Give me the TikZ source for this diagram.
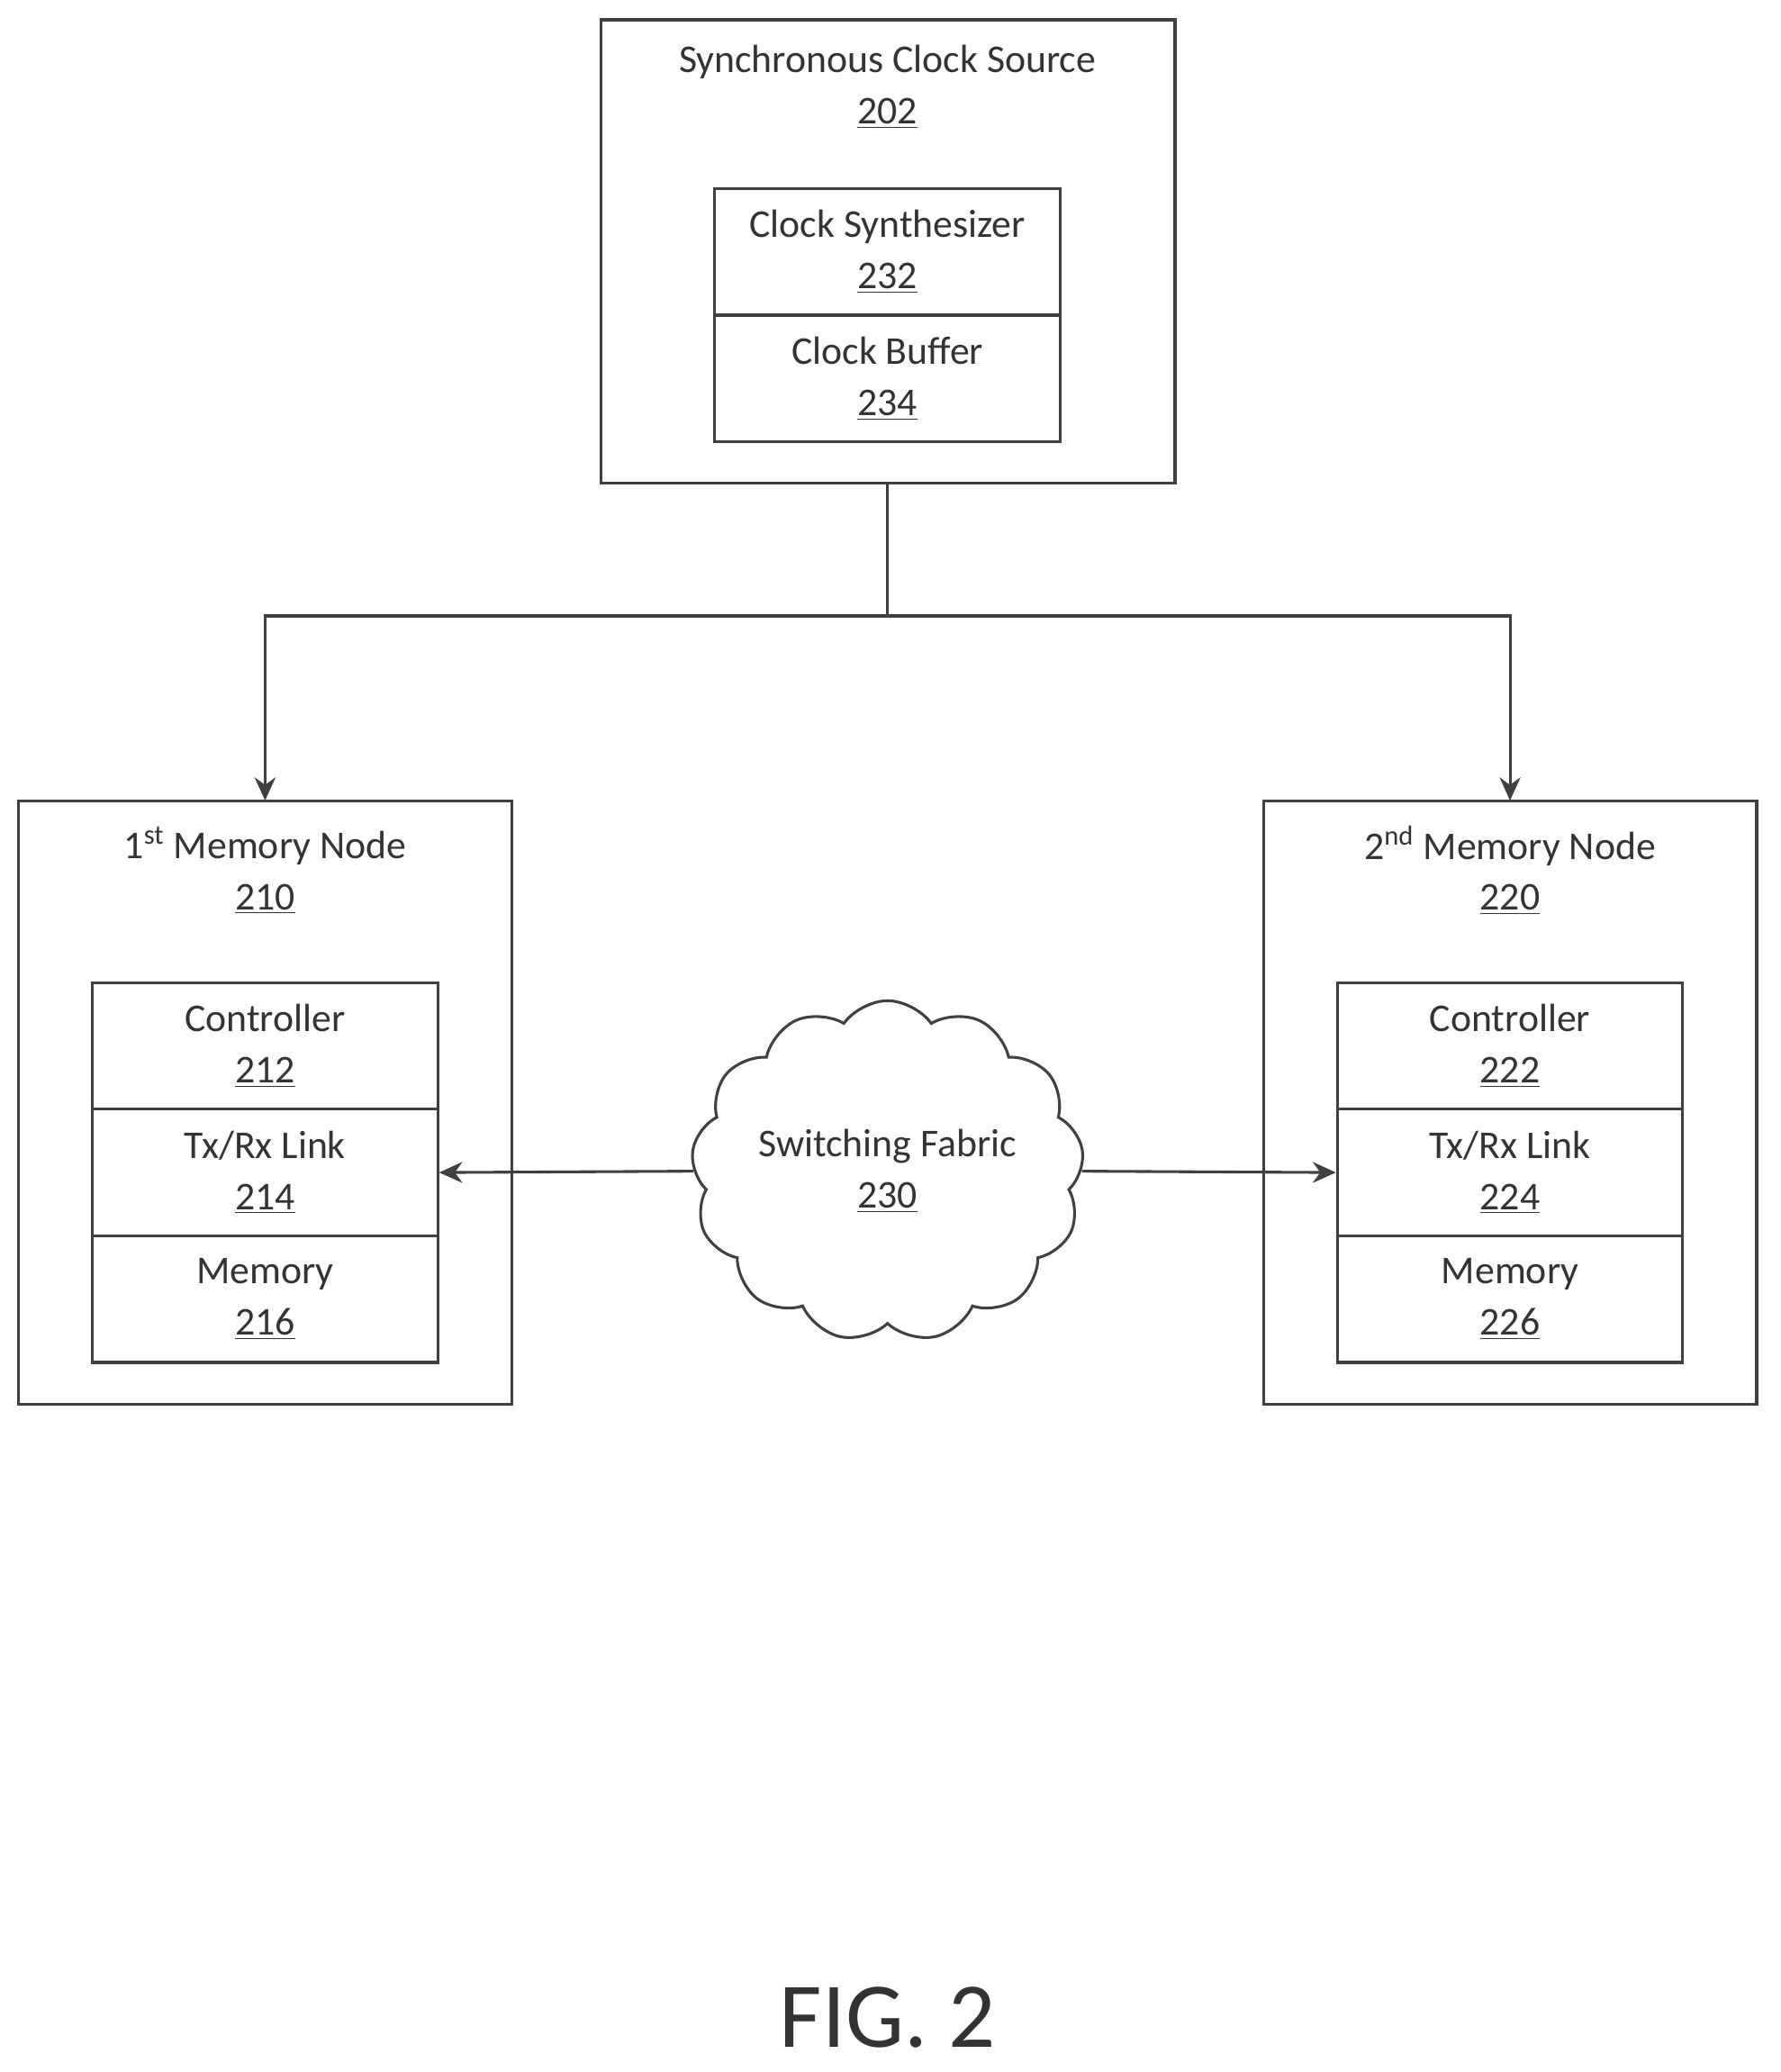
\documentclass[tikz,border=0pt]{standalone}
\usepackage{fontspec}
\setmainfont{Carlito}
\usetikzlibrary{shapes.symbols,arrows.meta}
\tikzset{
  box/.style={draw=black!75, line width=1.2pt},
  part/.style={draw=black!75, line width=1.2pt, minimum width=5.24cm, minimum height=1.92cm, inner sep=0pt, align=center, font=\fontsize{17}{22}\selectfont, text=black!80},
  lbl/.style={align=center, font=\fontsize{17}{22}\selectfont, text=black!80},
  link/.style={draw=black!75, line width=1.2pt, -{Stealth[length=10pt,width=9pt]}}
}
\begin{document}
\begin{tikzpicture}[x=0.02cm,y=-0.02cm]
    \useasboundingbox (0,0) rectangle (1350,1571);
    % Synchronous clock source
    \draw[box] (456,15) rectangle (891,366);
    \node[lbl] (src) at (673,66) {Synchronous Clock Source\\\underline{202}};
    \node[part] (synth) at (673,191) {Clock Synthesizer\\\underline{232}};
    \node[part] (buf) at (673,287) {Clock Buffer\\\underline{234}};
    \coordinate (srcb) at (673,366);
    \coordinate (split) at (673,467);

    % 1st memory node
    \draw[box] (14,607) rectangle (388,1065);
    \node[lbl] (n1) at (201,660) {1\textsuperscript{st} Memory Node\\\underline{210}};
    \node[part] (ctl1) at (201,793) {Controller\\\underline{212}};
    \node[part] (tx1) at (201,889) {Tx/Rx Link\\\underline{214}};
    \node[part] (mem1) at (201,985) {Memory\\\underline{216}};
    \coordinate (n1t) at (201,607);

    % 2nd memory node
    \draw[box] (958,607) rectangle (1332,1065);
    \node[lbl] (n2) at (1145,660) {2\textsuperscript{nd} Memory Node\\\underline{220}};
    \node[part] (ctl2) at (1145,793) {Controller\\\underline{222}};
    \node[part] (tx2) at (1145,889) {Tx/Rx Link\\\underline{224}};
    \node[part] (mem2) at (1145,985) {Memory\\\underline{226}};
    \coordinate (n2t) at (1145,607);

    % Switching fabric
    \node[cloud, draw=black!75, line width=1.2pt, cloud puffs=13, cloud puff arc=110, aspect=1.2, minimum width=5.1cm, minimum height=4.1cm, inner sep=0pt, lbl] (fab) at (673,888) {Switching Fabric\\\underline{230}};

    % Connectors
    \draw[box] (srcb) -- (split);
    \draw[link] (split) -| (n1t);
    \draw[link] (split) -| (n2t);
    \draw[link] (fab.west) -- (tx1.east);
    \draw[link] (fab.east) -- (tx2.west);

    \node[font=\fontsize{40}{48}\selectfont, text=black!80] (fig) at (673,1530) {FIG. 2};
\end{tikzpicture}
\end{document}
